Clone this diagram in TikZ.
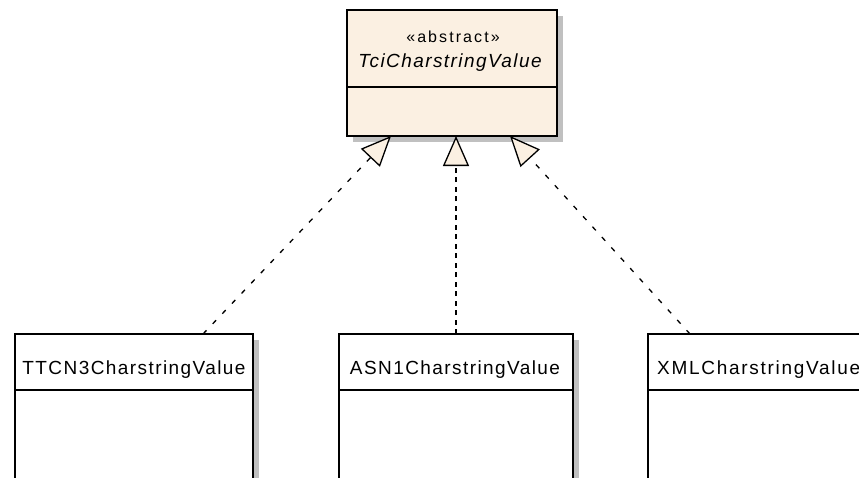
\documentclass[tikz,border=0pt]{standalone}
\usepackage{fontspec}
\setmainfont{Liberation Sans}
\newfontfamily\umlfont[LetterSpace=7.5]{Liberation Sans}
\usetikzlibrary{arrows.meta,shadows}
\definecolor{classfill}{RGB}{251,240,226}
\definecolor{shadowgrey}{RGB}{192,192,192}
\begin{document}
\begin{tikzpicture}[x=1pt,y=-1pt,
  classbox/.style={draw=black, line width=1.6pt, rectangle, inner sep=0pt, outer sep=0pt,
    drop shadow={shadow xshift=6pt, shadow yshift=-6pt, fill=shadowgrey, opacity=1}},
  divider/.style={draw=black, line width=1.6pt},
  classname/.style={anchor=base, inner sep=0pt, font=\umlfont\fontsize{19}{22}\selectfont},
  stereotype/.style={anchor=base, inner sep=0pt, font=\umlfont\fontsize{16}{19}\selectfont\addfontfeature{LetterSpace=13}},
  realize/.style={draw=black, line width=1.3pt, dash pattern=on 5pt off 9pt,
    -{Triangle[length=30pt, width=26pt, fill=classfill, line width=1.3pt]}},
  realizestraight/.style={realize, line width=1.7pt, dash pattern=on 5pt off 4.5pt}
]
\clip (0,0) rectangle (859,477);
\fill[white] (0,0) rectangle (859,477);

% abstract parent class
\node[classbox, fill=classfill, minimum width=210pt, minimum height=126pt] (parent) at (452,73) {};
\draw[divider] ([yshift=-77pt]parent.north west) -- ([yshift=-77pt]parent.north east);
\node[stereotype] (stereo) at (453,42) {«abstract»};
\node[classname, font=\umlfont\itshape\fontsize{19}{22}\selectfont] (parentname) at (450,67) {TciCharstringValue};

% concrete subclasses
\node[classbox, fill=white, minimum width=238pt, minimum height=170pt] (ttcn) at (134,419) {};
\node[classbox, fill=white, minimum width=234pt, minimum height=170pt] (asn) at (456,419) {};
\node[classbox, fill=white, minimum width=240pt, minimum height=170pt] (xml) at (768,419) {};
\foreach \c in {ttcn,asn,xml}{
  \draw[divider] ([yshift=-56pt]\c.north west) -- ([yshift=-56pt]\c.north east);
}
\node[classname] (ttcnlabel) at (134,374) {TTCN3CharstringValue};
\node[classname] (asnlabel) at (455,374) {ASN1CharstringValue};
\node[classname, anchor=base west, font=\umlfont\fontsize{19}{22}\selectfont\addfontfeature{LetterSpace=9}] (xmllabel) at (657,374) {XMLCharstringValue};

% realization connectors
\draw[realize] ([xshift=69pt]ttcn.north) -- ([xshift=-61pt]parent.south);
\draw[realizestraight] (asn.north) -- (asn.north |- parent.south);
\draw[realize] ([xshift=-78pt]xml.north) -- ([xshift=58pt]parent.south);
\end{tikzpicture}
\end{document}
